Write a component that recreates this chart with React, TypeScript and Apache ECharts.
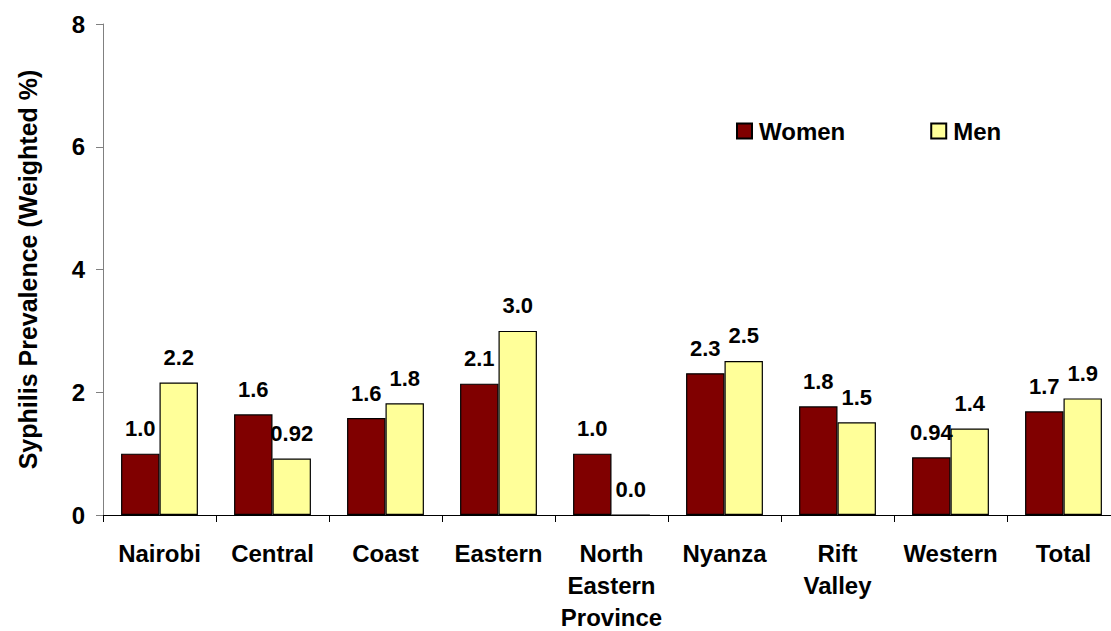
import React, { useEffect, useRef } from "react";
import * as echarts from "echarts";

const categories = [
  "Nairobi",
  "Central",
  "Coast",
  "Eastern",
  "North\nEastern\nProvince",
  "Nyanza",
  "Rift\nValley",
  "Western",
  "Total",
];
const women = [1.0, 1.64, 1.58, 2.14, 1.0, 2.31, 1.77, 0.94, 1.69];
const men = [2.16, 0.92, 1.82, 3.0, 0.0, 2.51, 1.51, 1.41, 1.9];
const yTicks = { min: 0, max: 8, interval: 2 };

const FONT = "'Liberation Sans', Arial, sans-serif";

export default function App() {
  const ref = useRef<HTMLDivElement>(null);
  useEffect(() => {
    if (!ref.current) return;
    const chart = echarts.init(ref.current, null, { renderer: "svg" });
    const labelCfg = {
      show: true,
      position: "top",
      distance: 14,
      color: "#000",
      fontFamily: FONT,
      fontWeight: "bold",
      fontSize: 22,
      formatter: (p: any) => Number(p.value).toPrecision(2),
    };
    chart.setOption({
      animation: false,
      textStyle: { fontFamily: FONT, color: "#000" },
      grid: {
        left: 103,
        right: -9,
        top: 24,
        bottom: 116,
        containLabel: false,
        outerBoundsMode: "none",
      },
      legend: {
        left: 731,
        top: 114,
        itemWidth: 15,
        itemHeight: 15,
        itemGap: 85,
        icon: "rect",
        textStyle: { fontFamily: FONT, fontWeight: "bold", fontSize: 24, color: "#000", padding: [0, 0, 0, 2] },
        data: ["Women", "Men"],
      },
      xAxis: {
        type: "category",
        data: categories,
        axisLine: { lineStyle: { color: "#000", width: 1 } },
        axisTick: { show: true, length: 7, lineStyle: { color: "#000" } },
        axisLabel: {
          interval: 0,
          margin: 22,
          fontFamily: FONT,
          fontWeight: "bold",
          fontSize: 24,
          lineHeight: 32,
          color: "#000",
        },
      },
      yAxis: {
        type: "value",
        min: yTicks.min,
        max: yTicks.max,
        interval: yTicks.interval,
        name: "Syphilis Prevalence (Weighted %)",
        nameLocation: "middle",
        nameGap: 63,
        nameTextStyle: {
          fontFamily: FONT,
          fontWeight: "bold",
          fontSize: 25,
          color: "#000",
        },
        axisLine: { show: true, lineStyle: { color: "#808080", width: 1 } },
        axisTick: { show: true, length: 7, lineStyle: { color: "#808080" } },
        splitLine: { show: false },
        axisLabel: { margin: 18, fontFamily: FONT, fontWeight: "bold", fontSize: 24, color: "#000" },
      },
      series: [
        {
          name: "Women",
          type: "bar",
          data: women,
          barGap: "0%",
          barCategoryGap: "32%",
          itemStyle: { color: "#800000", borderColor: "#000", borderWidth: 1.2 },
          label: labelCfg,
        },
        {
          name: "Men",
          type: "bar",
          data: men,
          barGap: "0%",
          barCategoryGap: "32%",
          itemStyle: { color: "#FFFF99", borderColor: "#000", borderWidth: 1.2 },
          label: labelCfg,
        },
      ],
    });
    return () => chart.dispose();
  }, []);
  return (
    <div
      ref={ref}
      style={{ position: "absolute", left: 0, top: 0, width: 1111, height: 631, background: "#fff" }}
    />
  );
}
